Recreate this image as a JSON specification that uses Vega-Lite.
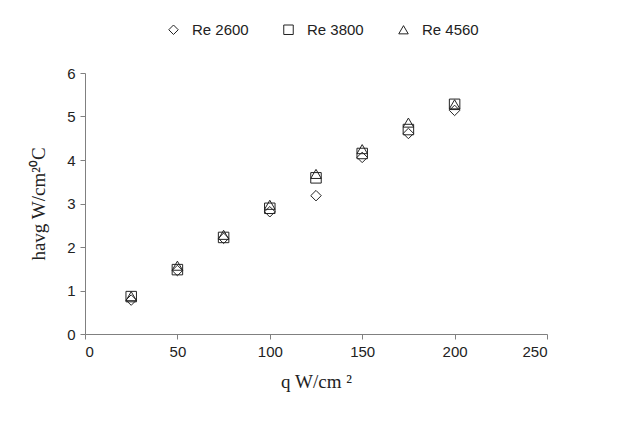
{
  "$schema": "https://vega.github.io/schema/vega-lite/v6.json",
  "width": 462,
  "height": 261,
  "autosize": {"type": "none"},
  "padding": {"left": 85, "top": 73, "right": 95, "bottom": 88},
  "background": "white",
  "config": {
    "view": {"stroke": null},
    "font": "Liberation Sans"
  },
  "data": {
    "values": [
      {"q": 25, "h": 0.78, "series": "Re 2600"},
      {"q": 50, "h": 1.46, "series": "Re 2600"},
      {"q": 75, "h": 2.2, "series": "Re 2600"},
      {"q": 100, "h": 2.81, "series": "Re 2600"},
      {"q": 125, "h": 3.18, "series": "Re 2600"},
      {"q": 150, "h": 4.06, "series": "Re 2600"},
      {"q": 175, "h": 4.61, "series": "Re 2600"},
      {"q": 200, "h": 5.14, "series": "Re 2600"},
      {"q": 25, "h": 0.86, "series": "Re 3800"},
      {"q": 50, "h": 1.48, "series": "Re 3800"},
      {"q": 75, "h": 2.22, "series": "Re 3800"},
      {"q": 100, "h": 2.89, "series": "Re 3800"},
      {"q": 125, "h": 3.59, "series": "Re 3800"},
      {"q": 150, "h": 4.15, "series": "Re 3800"},
      {"q": 175, "h": 4.7, "series": "Re 3800"},
      {"q": 200, "h": 5.28, "series": "Re 3800"},
      {"q": 25, "h": 0.87, "series": "Re 4560"},
      {"q": 50, "h": 1.57, "series": "Re 4560"},
      {"q": 75, "h": 2.28, "series": "Re 4560"},
      {"q": 100, "h": 2.97, "series": "Re 4560"},
      {"q": 125, "h": 3.68, "series": "Re 4560"},
      {"q": 150, "h": 4.25, "series": "Re 4560"},
      {"q": 175, "h": 4.86, "series": "Re 4560"},
      {"q": 200, "h": 5.28, "series": "Re 4560"}
    ]
  },
  "mark": {"type": "point", "filled": false, "stroke": "#222", "strokeWidth": 1, "size": 110, "opacity": 1},
  "encoding": {
    "x": {
      "field": "q", "type": "quantitative",
      "scale": {"domain": [0, 250], "nice": false, "zero": true},
      "axis": {
        "title": "q W/cm ²",
        "values": [0, 50, 100, 150, 200, 250],
        "grid": false,
        "domainColor": "#808080", "tickColor": "#808080", "tickSize": 5,
        "labelFont": "Liberation Sans", "labelFontSize": 15, "labelColor": "#222",
        "labelPadding": 5,
        "titleFont": "Liberation Serif", "titleFontSize": 19, "titleFontWeight": "normal", "titleColor": "#222",
        "titlePadding": 13
      }
    },
    "y": {
      "field": "h", "type": "quantitative",
      "scale": {"domain": [0, 6], "nice": false},
      "axis": {
        "title": "havg W/cm²⁰C",
        "values": [0, 1, 2, 3, 4, 5, 6],
        "grid": false,
        "domainColor": "#808080", "tickColor": "#808080", "tickSize": 5,
        "labelFont": "Liberation Sans", "labelFontSize": 15, "labelColor": "#222",
        "labelPadding": 5,
        "titleFont": "Liberation Serif", "titleFontSize": 19, "titleFontWeight": "normal", "titleColor": "#222",
        "titlePadding": 18
      }
    },
    "shape": {
      "field": "series", "type": "nominal",
      "scale": {"domain": ["Re 2600", "Re 3800", "Re 4560"], "range": ["diamond", "square", "triangle-up"]},
      "legend": {
        "title": null,
        "orient": "none",
        "direction": "horizontal",
        "legendX": 81,
        "legendY": -51,
        "columnPadding": 32,
        "labelFont": "Liberation Sans", "labelFontSize": 15, "labelColor": "#222",
        "labelOffset": 11,
        "symbolSize": 90,
        "symbolStrokeColor": "#222",
        "symbolStrokeWidth": 1
      }
    }
  }
}
